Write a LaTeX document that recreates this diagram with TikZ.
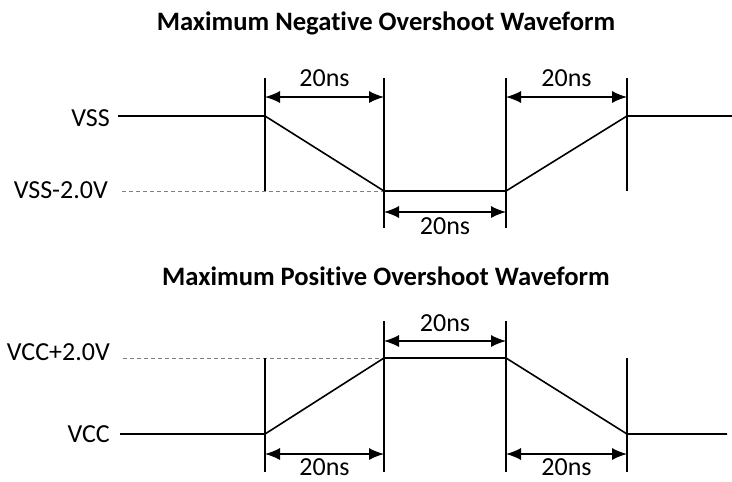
\documentclass[tikz,border=0pt]{standalone}
\usepackage{fontspec}
\setmainfont{Carlito}[Ligatures=CommonOff]
\usetikzlibrary{arrows.meta}

\begin{document}
\begin{tikzpicture}[x=1pt,y=-1pt,>={Latex[length=15pt,width=12pt]}]
    \tikzstyle{every node}=[font=\fontsize{26}{30}\selectfont,inner sep=0pt]
    \tikzset{
      wave/.style={line width=1.6pt},
      edgeline/.style={line width=1.3pt},
      levelref/.style={gray,dashed,line width=0.9pt,dash pattern=on 4pt off 3pt},
      dimarrow/.style={<->,line width=1.3pt},
      titletext/.style={anchor=base,font=\fontsize{26.6}{30}\bfseries}
    }
    \useasboundingbox (0,0) rectangle (732,482);

    % negative overshoot
    \node[titletext] (negtitle) at (386,30) {Maximum Negative Overshoot Waveform};
    \node[anchor=base east] (vss) at (110,126) {VSS};
    \node[anchor=base east] (vsslow) at (108,198) {VSS-2.0V};

    \coordinate (n0) at (118,116);
    \coordinate (n1) at (265,116);
    \coordinate (n2) at (384,191);
    \coordinate (n3) at (506,191);
    \coordinate (n4) at (627,116);
    \coordinate (n5) at (732,116);
    \coordinate (nref) at (122,191);

    \draw[levelref] (nref) -- (n2);
    \draw[wave] (n0) -- (n1) -- (n2) -- (n3) -- (n4) -- (n5);

    \draw[edgeline] (265,78) -- (265,191);
    \draw[edgeline] (384,78) -- (384,228);
    \draw[edgeline] (506,78) -- (506,228);
    \draw[edgeline] (627,78) -- (627,191);

    \draw[dimarrow] (265,97) -- (384,97)
    node[midway,above=10pt] (nt1) {20ns};
    \draw[dimarrow] (506,97) -- (627,97)
    node[midway,above=10pt] (nt2) {20ns};
    \draw[dimarrow] (384,212) -- (506,212)
    node[midway,below=5pt] (nt3) {20ns};

    % positive overshoot
    \node[titletext] (postitle) at (386,285) {Maximum Positive Overshoot Waveform};
    \node[anchor=base east] (vcchigh) at (110,360) {VCC+2.0V};
    \node[anchor=base east] (vcc) at (110,442) {VCC};

    \coordinate (p0) at (120,434);
    \coordinate (p1) at (265,434);
    \coordinate (p2) at (384,358);
    \coordinate (p3) at (506,358);
    \coordinate (p4) at (627,434);
    \coordinate (p5) at (727,434);
    \coordinate (pref) at (123,358);

    \draw[levelref] (pref) -- (p2);
    \draw[wave] (p0) -- (p1) -- (p2) -- (p3) -- (p4) -- (p5);

    \draw[edgeline] (265,358) -- (265,472);
    \draw[edgeline] (384,321) -- (384,472);
    \draw[edgeline] (506,321) -- (506,472);
    \draw[edgeline] (627,358) -- (627,472);

    \draw[dimarrow] (384,341) -- (506,341)
    node[midway,above=9pt] (pt1) {20ns};
    \draw[dimarrow] (265,454) -- (384,454)
    node[midway,below=4pt] (pt2) {20ns};
    \draw[dimarrow] (506,454) -- (627,454)
    node[midway,below=4pt] (pt3) {20ns};
\end{tikzpicture}
\end{document}
